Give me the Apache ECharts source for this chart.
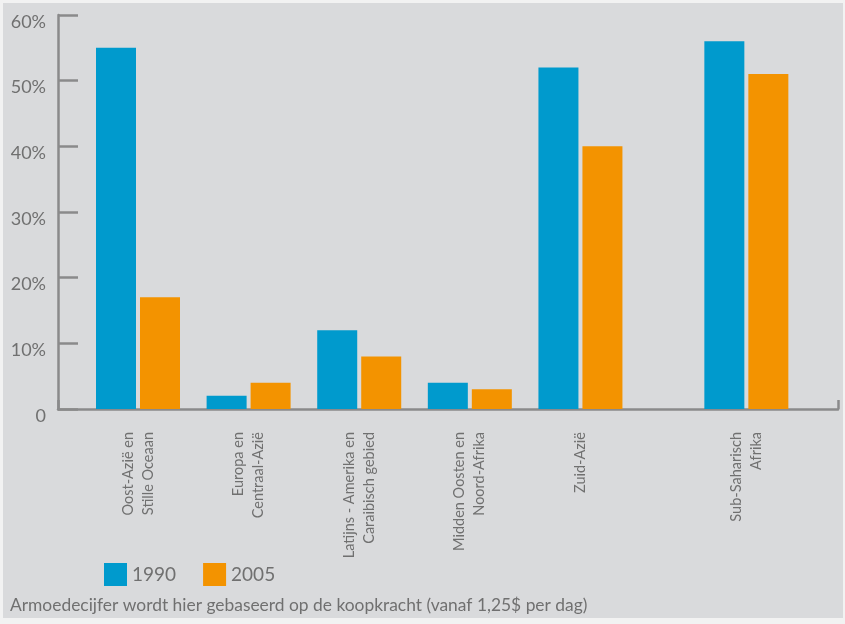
<!DOCTYPE html>
<html>
<head>
<meta charset="utf-8">
<script src="https://cdn.jsdelivr.net/npm/echarts@6/dist/echarts.min.js"></script>
<style>
  html, body { margin: 0; padding: 0; background: #f2f2f2; }
  #bg { position: absolute; left: 3px; top: 3px; width: 840px; height: 615px; background: #d9dadc; }
  #chart { position: absolute; left: 0; top: 0; width: 845px; height: 624px; }
</style>
</head>
<body>
<div id="bg"></div>
<div id="chart"></div>
<script>
const categories = [
  'Oost-Azië en\nStille Oceaan',
  'Europa en\nCentraal-Azië',
  'Latijns - Amerika en\nCaraibisch gebied',
  'Midden Oosten en\nNoord-Afrika',
  'Zuid-Azië',
  'Sub-Saharisch\nAfrika'
];
const values1990 = [55, 2, 12, 4, 52, 56];
const values2005 = [17, 4, 8, 3, 40, 51];
const yTickLabels = ['0', '10%', '20%', '30%', '40%', '50%', '60%'];
const seriesNames = ['1990', '2005'];
const footnote = 'Armoedecijfer wordt hier gebaseerd op de koopkracht (vanaf 1,25$ per dag)';

// Build category axis with blank spacer slots (wider gap before the last group)
const axisCats = [], s1990 = [], s2005 = [];
categories.forEach((c, i) => {
  if (i === categories.length - 1) { axisCats.push(''); s1990.push('-'); s2005.push('-'); }
  axisCats.push(c); s1990.push(values1990[i]); s2005.push(values2005[i]);
  if (i < categories.length - 1) { axisCats.push(''); s1990.push('-'); s2005.push('-'); }
});

const axisColor = '#8a8a8b';
const textColor = '#707070';
const font = 'Lato';

const chart = echarts.init(document.getElementById('chart'), null, { renderer: 'canvas' });
chart.setOption({
  backgroundColor: 'transparent',
  animation: false,
  textStyle: { fontFamily: font },
  title: {
    text: footnote, left: 5, top: 592,
    textStyle: { fontFamily: font, fontSize: 17.4, fontWeight: 'normal', color: textColor }
  },
  legend: {
    data: seriesNames, left: 104, top: 563, padding: 0, itemWidth: 23, itemHeight: 23, itemGap: 27,
    icon: 'rect', textStyle: { fontFamily: font, fontSize: 19, color: textColor }
  },
  grid: [
    { left: 58, right: 7, top: 15, bottom: 215 },
    { left: 110.35, right: 71, top: 15, bottom: 215 }
  ],
  xAxis: [
    {
      gridIndex: 0, type: 'value', min: 0, max: 1, interval: 1,
      axisLine: { show: true, lineStyle: { color: axisColor, width: 2.5 } },
      axisTick: { show: true, inside: true, length: 9, lineStyle: { color: axisColor, width: 2.5 } },
      axisLabel: { show: false }, splitLine: { show: false }
    },
    {
      gridIndex: 1, type: 'category', data: axisCats,
      axisLine: { show: false }, axisTick: { show: false }, splitLine: { show: false },
      axisLabel: {
        interval: 0, rotate: 90, margin: 23, fontFamily: font, fontSize: 14.5,
        lineHeight: 20, color: textColor
      }
    }
  ],
  yAxis: [
    {
      gridIndex: 0, type: 'value', min: 0, max: 60, interval: 10,
      axisLine: { show: true, lineStyle: { color: axisColor, width: 2.5 } },
      axisTick: { show: true, inside: true, length: 20, lineStyle: { color: axisColor, width: 2.5 } },
      splitLine: { show: false },
      axisLabel: {
        margin: 12, fontFamily: font, fontSize: 18, color: textColor,
        verticalAlign: 'top', lineHeight: 14,
        formatter: v => yTickLabels[Math.round(v / 10)]
      }
    },
    {
      gridIndex: 1, type: 'value', min: 0, max: 60, interval: 10, show: false
    }
  ],
  series: [
    {
      name: seriesNames[0], type: 'bar', xAxisIndex: 1, yAxisIndex: 1, data: s1990, clip: false,
      barWidth: 40, barGap: '10%', itemStyle: { color: '#009acd' }
    },
    {
      name: seriesNames[1], type: 'bar', xAxisIndex: 1, yAxisIndex: 1, data: s2005, clip: false,
      barWidth: 40, barGap: '10%', itemStyle: { color: '#f39300' }
    }
  ]
});
</script>
</body>
</html>
